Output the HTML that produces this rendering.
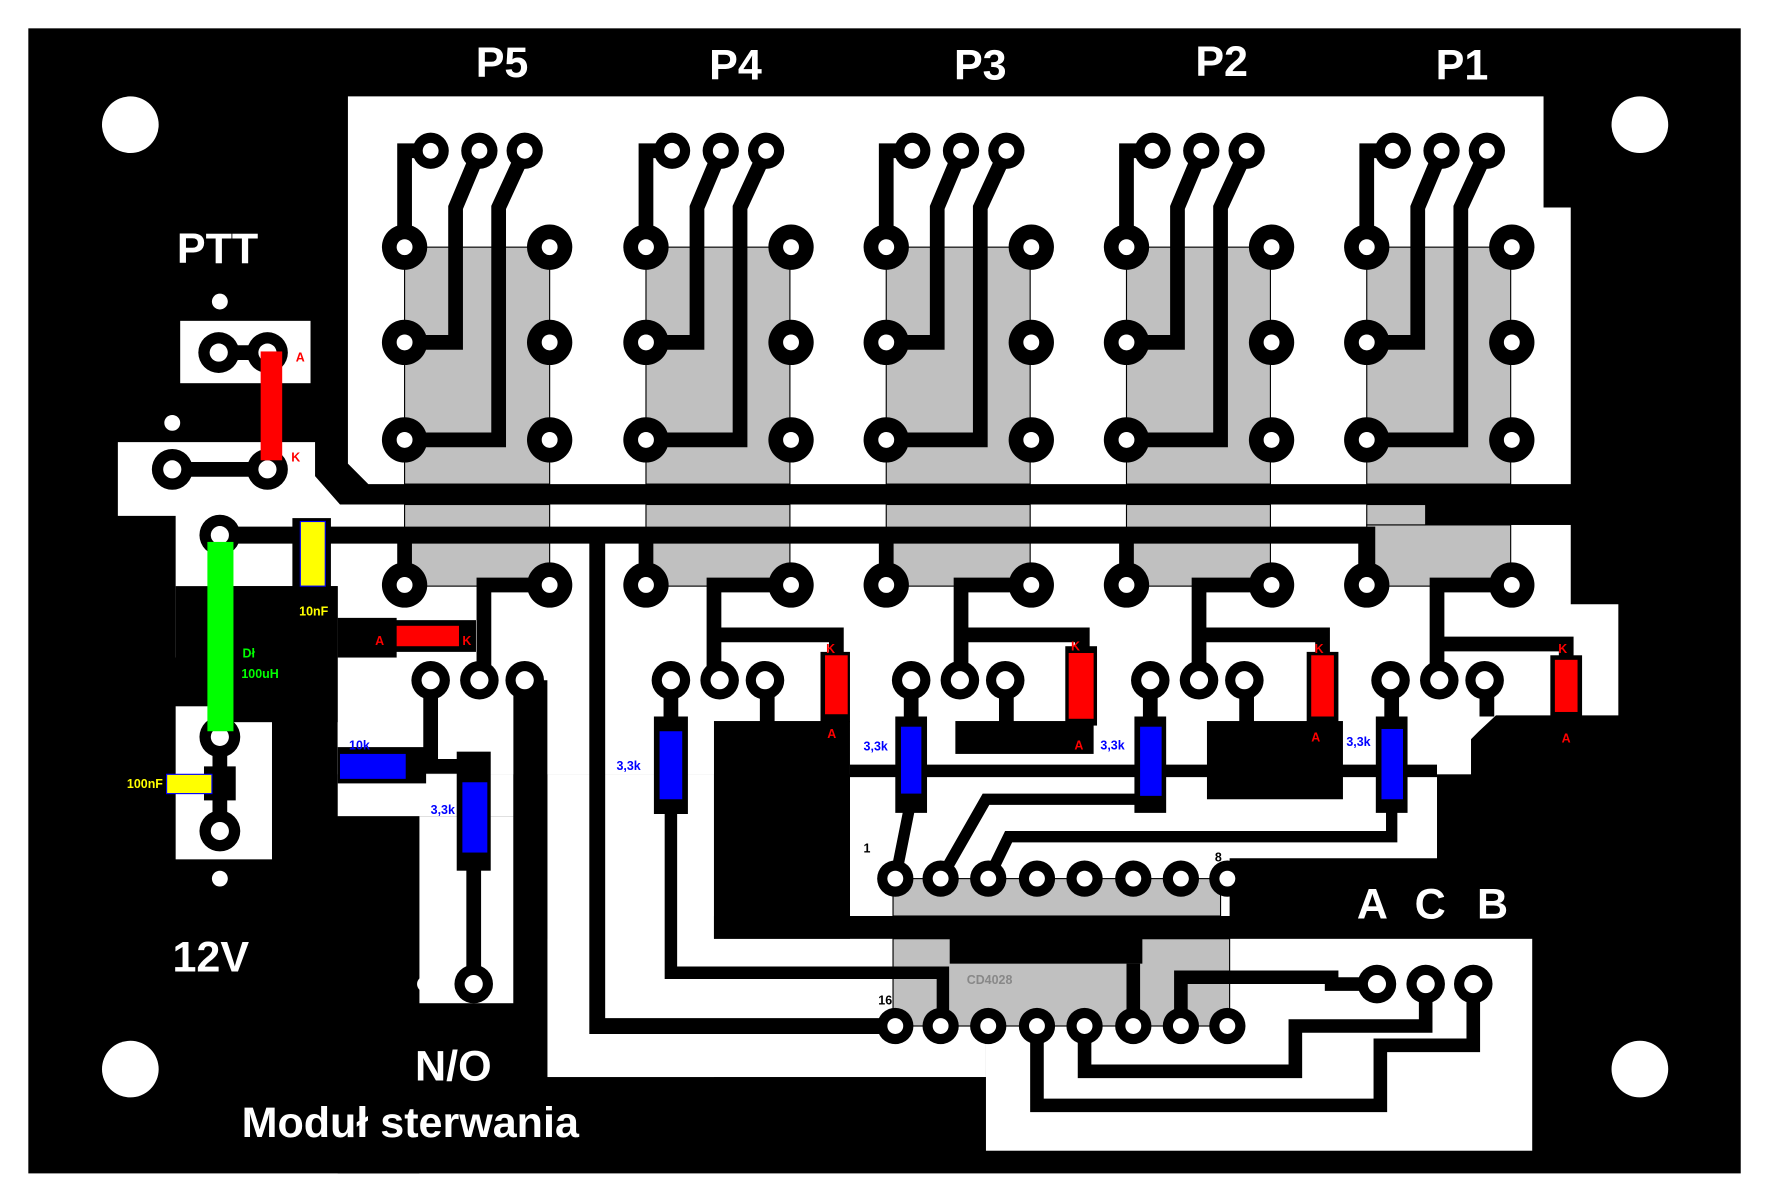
<!DOCTYPE html>
<html><head><meta charset="utf-8"><style>
html,body{margin:0;padding:0;background:#fff;overflow:hidden}
svg{display:block}
text{font-family:"Liberation Sans",sans-serif;font-weight:bold}
</style></head><body>
<svg width="1777" height="1204" viewBox="0 0 1568 1062" preserveAspectRatio="none" xmlns="http://www.w3.org/2000/svg">
<rect x="0" y="0" width="1568" height="1062" fill="#fff"/>
<rect x="25" y="25" width="1511" height="1010" fill="#000"/>
<g fill="#fff"><circle cx="115" cy="110" r="25"/><circle cx="1447" cy="110" r="25"/><circle cx="115" cy="943" r="25"/><circle cx="1447" cy="943" r="25"/></g>
<g fill="#fff">
<polygon points="307,85 1362,85 1362,183 1386,183 1386,427 325,427 307,409"/>
<rect x="159" y="283" width="115" height="55"/>
<polygon points="104,390 278,390 278,420 300,445 1258,445 1258,463 1386,463 1386,533 1428,533 1428,631 1320,631 1305,645 1282,668 1268,668 1268,757 1085,757 1085,808 750,808 750,683 298,683 298,580 155,580 155,455 104,455"/>
<rect x="298" y="517" width="1000" height="166"/>
<rect x="298" y="683" width="155" height="37"/>
<rect x="370" y="720" width="83" height="165"/>
<rect x="483" y="683" width="147" height="267"/>
<rect x="483" y="828" width="387" height="122"/>
<rect x="870" y="828" width="482" height="187"/>
<rect x="155" y="623" width="85" height="135"/>
</g>
<g fill="#000">
<rect x="155" y="517" width="143" height="63"/>
<rect x="200" y="517" width="98" height="120"/>
<rect x="630" y="636" width="120" height="192"/>
<rect x="630" y="808" width="722" height="20"/>
<rect x="843" y="636" width="122" height="29"/>
<rect x="1065" y="636" width="120" height="69"/>
<rect x="1258" y="445" width="128" height="18"/>
<rect x="453" y="600" width="30" height="350"/>
<rect x="370" y="885" width="83" height="70"/>
<rect x="298" y="720" width="72" height="315"/>
<rect x="298" y="545" width="52" height="35"/>
</g>
<g fill="#c0c0c0" stroke="#000" stroke-width="1">
<rect x="357" y="218" width="128" height="209"/><rect x="570" y="218" width="127" height="209"/><rect x="782" y="218" width="127" height="209"/><rect x="994" y="218" width="127" height="209"/><rect x="1206" y="218" width="127" height="209"/>
<rect x="357" y="445" width="128" height="72"/><rect x="570" y="445" width="127" height="72"/><rect x="782" y="445" width="127" height="72"/><rect x="994" y="445" width="127" height="72"/><rect x="1206" y="463" width="127" height="54"/>
<rect x="1206" y="445" width="52" height="18"/>
<rect x="788" y="775" width="289" height="33"/>
<rect x="788" y="828" width="297" height="77"/>
</g>
<rect x="838" y="828" width="170" height="22" fill="#000"/>
<g fill="none" stroke="#000" stroke-width="13" stroke-linejoin="miter">
<g id="sw"><polyline points="380,133 357,133 357,218"/><polyline points="423,133 402,183 402,302 357,302"/><polyline points="463,133 440,183 440,388 357,388"/></g>
<use href="#sw" transform="translate(213,0)"/><use href="#sw" transform="translate(425,0)"/><use href="#sw" transform="translate(637,0)"/><use href="#sw" transform="translate(849,0)"/>
<polyline points="194,472 1206,472 1206,516" stroke-width="15"/>
<line x1="357" y1="472" x2="357" y2="516"/><line x1="570" y1="472" x2="570" y2="516"/><line x1="782" y1="472" x2="782" y2="516"/><line x1="994" y1="472" x2="994" y2="516"/>
<polyline points="527,472 527,905 788,905" stroke-width="14"/>
<line x1="193" y1="311" x2="236" y2="311"/><line x1="152" y1="414" x2="236" y2="414"/>
<line x1="194" y1="650" x2="194" y2="733"/>
<polyline points="485,516 427,516 427,600"/>
<polyline points="380,600 380,676 418,676 418,868"/>
<polyline points="697,516 630,516 630,600"/><polyline points="630,560 738,560 738,580"/>
<polyline points="909,516 848,516 848,600"/><polyline points="848,560 955,560 955,578"/>
<polyline points="1121,516 1058,516 1058,600"/><polyline points="1058,560 1167,560 1167,580"/>
<polyline points="1333,516 1268,516 1268,600"/><polyline points="1268,568 1382,568 1382,584"/>
<line x1="677" y1="600" x2="677" y2="640"/><line x1="888" y1="600" x2="888" y2="640"/><line x1="1100" y1="600" x2="1100" y2="640"/><line x1="1312" y1="600" x2="1312" y2="632"/>
<line x1="750" y1="680" x2="1268" y2="680" stroke-width="11"/>
<line x1="592" y1="600" x2="592" y2="705"/><polyline points="592,705 592,858 832,858 832,905" stroke-width="11"/>
<line x1="804" y1="600" x2="804" y2="705"/><polyline points="804,705 790,775" stroke-width="10"/>
<line x1="1015" y1="600" x2="1015" y2="705"/><polyline points="1015,705 870,705 830,775" stroke-width="10"/>
<line x1="1228" y1="600" x2="1228" y2="705"/><polyline points="1228,705 1228,738 890,738 872,775" stroke-width="10"/>
<polyline points="1000,905 1000,850" stroke-width="12"/>
<polyline points="1042,905 1042,862 1175,862 1175,868 1215,868" stroke-width="12"/>
<polyline points="957,905 957,945 1143,945 1143,905 1258,905 1258,868" stroke-width="12"/>
<polyline points="915,905 915,975 1218,975 1218,922 1300,922 1300,868" stroke-width="12"/>
</g>
<g fill="#000">
<rect x="258" y="457" width="34" height="66"/>
<rect x="180" y="676" width="28" height="30"/>
<rect x="340" y="547" width="80" height="28"/>
<rect x="724" y="575" width="26" height="62"/><rect x="940" y="570" width="28" height="70"/><rect x="1153" y="575" width="28" height="62"/><rect x="1368" y="578" width="28" height="55"/>
<rect x="577" y="632" width="30" height="86"/><rect x="790" y="632" width="28" height="85"/><rect x="1001" y="632" width="28" height="85"/><rect x="1214" y="632" width="28" height="85"/>
<rect x="403" y="663" width="30" height="105"/><rect x="298" y="659" width="78" height="32"/>
</g>
<g fill="#000">
<g id="swp"><circle cx="380" cy="133" r="16"/><circle cx="423" cy="133" r="16"/><circle cx="463" cy="133" r="16"/>
<circle cx="357" cy="218" r="20"/><circle cx="485" cy="218" r="20"/><circle cx="357" cy="302" r="20"/><circle cx="485" cy="302" r="20"/><circle cx="357" cy="388" r="20"/><circle cx="485" cy="388" r="20"/><circle cx="357" cy="516" r="20"/><circle cx="485" cy="516" r="20"/></g>
<use href="#swp" transform="translate(213,0)"/><use href="#swp" transform="translate(425,0)"/><use href="#swp" transform="translate(637,0)"/><use href="#swp" transform="translate(849,0)"/>
<g id="rp"><circle cx="380" cy="600" r="17"/><circle cx="423" cy="600" r="17"/><circle cx="463" cy="600" r="17"/></g>
<use href="#rp" transform="translate(212,0)"/><use href="#rp" transform="translate(424,0)"/><use href="#rp" transform="translate(635,0)"/><use href="#rp" transform="translate(847,0)"/>
<circle cx="418" cy="868" r="17"/>
<circle cx="193" cy="311" r="18"/><circle cx="236" cy="311" r="18"/><circle cx="152" cy="414" r="18"/><circle cx="236" cy="414" r="18"/>
<circle cx="194" cy="472" r="18"/><circle cx="194" cy="650" r="18"/><circle cx="194" cy="733" r="18"/>
<g id="icr"><circle cx="790" cy="775" r="16"/><circle cx="830" cy="775" r="16"/><circle cx="872" cy="775" r="16"/><circle cx="915" cy="775" r="16"/><circle cx="957" cy="775" r="16"/><circle cx="1000" cy="775" r="16"/><circle cx="1042" cy="775" r="16"/><circle cx="1083" cy="775" r="16"/></g>
<use href="#icr" transform="translate(0,130)"/>
<circle cx="1215" cy="868" r="17"/><circle cx="1258" cy="868" r="17"/><circle cx="1300" cy="868" r="17"/>
</g>
<g fill="#fff">
<g id="swh"><circle cx="380" cy="133" r="7"/><circle cx="423" cy="133" r="7"/><circle cx="463" cy="133" r="7"/>
<circle cx="357" cy="218" r="7"/><circle cx="485" cy="218" r="7"/><circle cx="357" cy="302" r="7"/><circle cx="485" cy="302" r="7"/><circle cx="357" cy="388" r="7"/><circle cx="485" cy="388" r="7"/><circle cx="357" cy="516" r="7"/><circle cx="485" cy="516" r="7"/></g>
<use href="#swh" transform="translate(213,0)"/><use href="#swh" transform="translate(425,0)"/><use href="#swh" transform="translate(637,0)"/><use href="#swh" transform="translate(849,0)"/>
<g id="rh"><circle cx="380" cy="600" r="8"/><circle cx="423" cy="600" r="8"/><circle cx="463" cy="600" r="8"/></g>
<use href="#rh" transform="translate(212,0)"/><use href="#rh" transform="translate(424,0)"/><use href="#rh" transform="translate(635,0)"/><use href="#rh" transform="translate(847,0)"/>
<circle cx="418" cy="868" r="8"/>
<circle cx="193" cy="311" r="8"/><circle cx="236" cy="311" r="8"/><circle cx="152" cy="414" r="8"/><circle cx="236" cy="414" r="8"/>
<circle cx="194" cy="472" r="8"/><circle cx="194" cy="650" r="8"/><circle cx="194" cy="733" r="8"/>
<g id="ich"><circle cx="790" cy="775" r="7"/><circle cx="830" cy="775" r="7"/><circle cx="872" cy="775" r="7"/><circle cx="915" cy="775" r="7"/><circle cx="957" cy="775" r="7"/><circle cx="1000" cy="775" r="7"/><circle cx="1042" cy="775" r="7"/><circle cx="1083" cy="775" r="7"/></g>
<use href="#ich" transform="translate(0,130)"/>
<circle cx="1215" cy="868" r="8"/><circle cx="1258" cy="868" r="8"/><circle cx="1300" cy="868" r="8"/>
<circle cx="194" cy="266" r="7"/><circle cx="152" cy="373" r="7"/><circle cx="194" cy="775" r="7"/><circle cx="375" cy="868" r="7"/>
</g>
<rect x="230" y="310" width="19" height="96" fill="#f00"/>
<rect x="183" y="478" width="23" height="167" fill="#0f0"/>
<rect x="265" y="460" width="22" height="57" fill="#ff0" stroke="#00f" stroke-width="1"/>
<rect x="147" y="683" width="40" height="17" fill="#ff0" stroke="#00f" stroke-width="1"/>
<rect x="350" y="552" width="55" height="18" fill="#f00"/>
<g fill="#f00"><rect x="728" y="578" width="20" height="52"/><rect x="943" y="576" width="22" height="58"/><rect x="1157" y="578" width="20" height="54"/><rect x="1372" y="582" width="20" height="46"/></g>
<g fill="#00f"><rect x="582" y="645" width="20" height="60"/><rect x="795" y="641" width="18" height="59"/><rect x="1006" y="641" width="19" height="61"/><rect x="1219" y="643" width="19" height="62"/><rect x="408" y="690" width="22" height="62"/><rect x="300" y="665" width="58" height="22"/></g>
<g fill="#fff" font-size="38" text-anchor="middle">
<text x="443" y="68">P5</text><text x="649" y="70">P4</text><text x="865" y="70">P3</text><text x="1078" y="67">P2</text><text x="1290" y="70">P1</text>
<text x="192" y="232">PTT</text><text x="186" y="857">12V</text><text x="400" y="953">N/O</text><text x="362" y="1003">Moduł sterwania</text>
<text x="1211" y="810">A</text><text x="1262" y="810">C</text><text x="1317" y="810">B</text>
</g>
<g font-size="11">
<text x="261" y="319" fill="#f00">A</text><text x="257" y="407" fill="#f00">K</text>
<text x="264" y="543" fill="#ff0">10nF</text><text x="112" y="695" fill="#ff0">100nF</text>
<text x="214" y="580" fill="#0f0">Dł</text><text x="213" y="598" fill="#0f0">100uH</text>
<text x="331" y="569" fill="#f00">A</text><text x="408" y="569" fill="#f00">K</text>
<text x="308" y="661" fill="#00f">10k</text><text x="380" y="718" fill="#00f">3,3k</text><text x="544" y="679" fill="#00f">3,3k</text>
<text x="762" y="662" fill="#00f">3,3k</text><text x="971" y="661" fill="#00f">3,3k</text><text x="1188" y="658" fill="#00f">3,3k</text>
<text x="729" y="576" fill="#f00">K</text><text x="730" y="651" fill="#f00">A</text>
<text x="945" y="574" fill="#f00">K</text><text x="948" y="661" fill="#f00">A</text>
<text x="1160" y="576" fill="#f00">K</text><text x="1157" y="654" fill="#f00">A</text>
<text x="1375" y="576" fill="#f00">K</text><text x="1378" y="655" fill="#f00">A</text>
<text x="762" y="752" fill="#000">1</text><text x="1072" y="760" fill="#000">8</text><text x="775" y="886" fill="#000">16</text>
<text x="853" y="868" fill="#888">CD4028</text>
</g>
</svg>
</body></html>
